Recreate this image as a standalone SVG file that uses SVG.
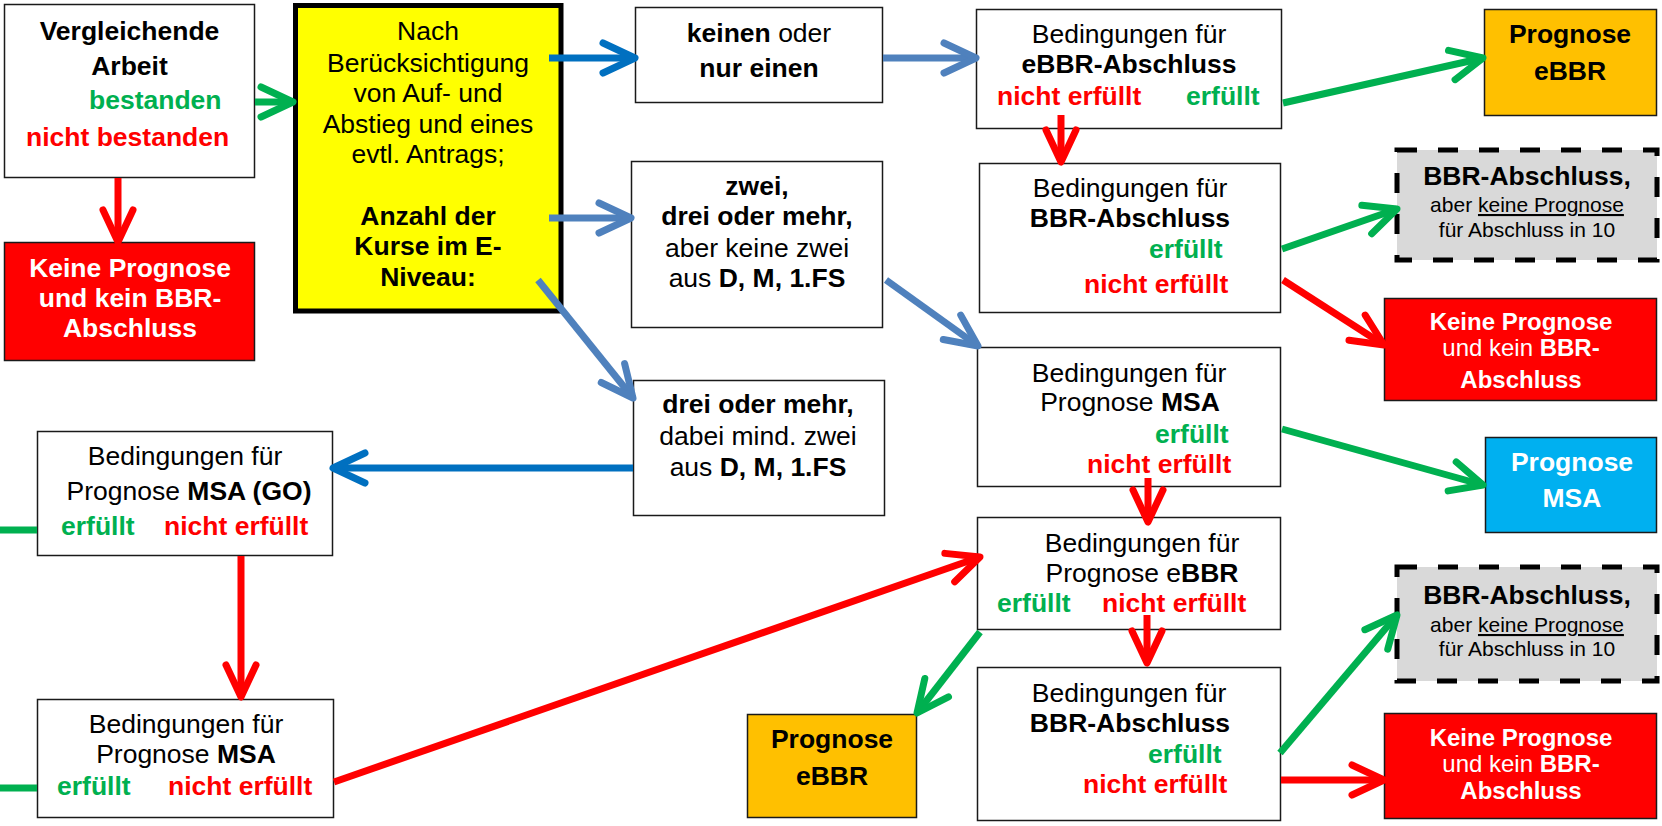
<svg xmlns="http://www.w3.org/2000/svg" width="1662" height="826" viewBox="0 0 1662 826">
<style>
text{font-family:"Liberation Sans",Arial,sans-serif;font-size:26.5px;fill:#000}
.m{text-anchor:middle}
.b{font-weight:bold}
.g{fill:#00B050;font-weight:bold}
.r{fill:#FF0000;font-weight:bold}
.w{fill:#FFFFFF}
.s{font-size:21px}
.k24{font-size:24px}
.box{fill:#FFFFFF;stroke:#1a1a1a;stroke-width:1.5}
.red{fill:#FF0000;stroke:#1a1a1a;stroke-width:1.5}
.org{fill:#FFC000;stroke:#1a1a1a;stroke-width:1.5}
.cyan{fill:#00B0F0;stroke:#1a1a1a;stroke-width:1.5}
.dash{fill:#D9D9D9;stroke:#000;stroke-width:5;stroke-dasharray:20 21}
.c{fill:none;stroke-width:7}
.cg{stroke:#00B050}
.cr{stroke:#FF0000}
.cb1{stroke:#0070C0}
.cb2{stroke:#4F81BD}
</style>
<defs>
<marker id="ag" markerUnits="userSpaceOnUse" orient="auto" markerWidth="60" markerHeight="60" refX="0" refY="0" viewBox="-40 -30 60 60" overflow="visible"><path d="M-32,-15 L0,0 L-32,15" fill="none" stroke="#00B050" stroke-width="7" stroke-linecap="round" stroke-linejoin="round"/></marker>
<marker id="ar" markerUnits="userSpaceOnUse" orient="auto" markerWidth="60" markerHeight="60" refX="0" refY="0" viewBox="-40 -30 60 60" overflow="visible"><path d="M-32,-15 L0,0 L-32,15" fill="none" stroke="#FF0000" stroke-width="7" stroke-linecap="round" stroke-linejoin="round"/></marker>
<marker id="ab1" markerUnits="userSpaceOnUse" orient="auto" markerWidth="60" markerHeight="60" refX="0" refY="0" viewBox="-40 -30 60 60" overflow="visible"><path d="M-32,-15 L0,0 L-32,15" fill="none" stroke="#0070C0" stroke-width="7" stroke-linecap="round" stroke-linejoin="round"/></marker>
<marker id="ab2" markerUnits="userSpaceOnUse" orient="auto" markerWidth="60" markerHeight="60" refX="0" refY="0" viewBox="-40 -30 60 60" overflow="visible"><path d="M-32,-15 L0,0 L-32,15" fill="none" stroke="#4F81BD" stroke-width="7" stroke-linecap="round" stroke-linejoin="round"/></marker>
</defs>
<rect width="1662" height="826" fill="#FFFFFF"/>

<g id="n-vergleich">
<rect class="box" x="4.5" y="4.5" width="250" height="173"/>
<text class="m b" x="129.5" y="40">Vergleichende</text>
<text class="m b" x="129.5" y="75">Arbeit</text>
<text class="g" x="89" y="109">bestanden</text>
<text class="r" x="26" y="146">nicht bestanden</text>
</g>

<g id="n-keine-left">
<rect class="red" x="4.5" y="242.5" width="250" height="118"/>
<text class="m b w" x="130" y="277">Keine Prognose</text>
<text class="m b w" x="130" y="307">und kein BBR-</text>
<text class="m b w" x="130" y="337">Abschluss</text>
</g>

<g id="n-nach">
<rect x="295.5" y="5.5" width="265.5" height="305.5" fill="#FFFF00" stroke="#000" stroke-width="5"/>
<text class="m" x="428" y="40">Nach</text>
<text class="m" x="428" y="72">Berücksichtigung</text>
<text class="m" x="428" y="102">von Auf- und</text>
<text class="m" x="428" y="133">Abstieg und eines</text>
<text class="m" x="428" y="163">evtl. Antrags;</text>
<text class="m b" x="428" y="225">Anzahl der</text>
<text class="m b" x="428" y="255">Kurse im E-</text>
<text class="m b" x="428" y="286">Niveau:</text>
</g>

<g id="n-keinen">
<rect class="box" x="635.5" y="7.5" width="247" height="95"/>
<text class="m" x="759" y="42"><tspan class="b">keinen</tspan> oder</text>
<text class="m b" x="759" y="77">nur einen</text>
</g>

<g id="n-zwei">
<rect class="box" x="631.5" y="161.5" width="251" height="166"/>
<text class="m b" x="757" y="195">zwei,</text>
<text class="m b" x="757" y="225">drei oder mehr,</text>
<text class="m" x="757" y="257">aber keine zwei</text>
<text class="m" x="757" y="287">aus <tspan class="b">D, M, 1.FS</tspan></text>
</g>

<g id="n-drei">
<rect class="box" x="633.5" y="380.5" width="251" height="135"/>
<text class="m b" x="758" y="413">drei oder mehr,</text>
<text class="m" x="758" y="445">dabei mind. zwei</text>
<text class="m" x="758" y="476">aus <tspan class="b">D, M, 1.FS</tspan></text>
</g>

<g id="n-cond-ebbr">
<rect class="box" x="976.5" y="9.5" width="305" height="119"/>
<text class="m" x="1129" y="43">Bedingungen für</text>
<text class="m b" x="1129" y="73">eBBR-Abschluss</text>
<text class="r" x="997" y="105">nicht erfüllt</text>
<text class="g" x="1186" y="105">erfüllt</text>
</g>

<g id="n-cond-bbr1">
<rect class="box" x="979.5" y="163.5" width="301" height="149"/>
<text class="m" x="1130" y="197">Bedingungen für</text>
<text class="m b" x="1130" y="227">BBR-Abschluss</text>
<text class="g" x="1149" y="258">erfüllt</text>
<text class="r" x="1084" y="293">nicht erfüllt</text>
</g>

<g id="n-cond-msa">
<rect class="box" x="977.5" y="347.5" width="303" height="139"/>
<text class="m" x="1129" y="382">Bedingungen für</text>
<text class="m" x="1130" y="411">Prognose <tspan class="b">MSA</tspan></text>
<text class="g" x="1155" y="443">erfüllt</text>
<text class="r" x="1087" y="473">nicht erfüllt</text>
</g>

<g id="n-cond-prog-ebbr">
<rect class="box" x="977.5" y="517.5" width="303" height="112"/>
<text class="m" x="1142" y="552">Bedingungen für</text>
<text class="m" x="1142" y="582">Prognose e<tspan class="b">BBR</tspan></text>
<text class="g" x="997" y="612">erfüllt</text>
<text class="r" x="1102" y="612">nicht erfüllt</text>
</g>

<g id="n-cond-bbr2">
<rect class="box" x="977.5" y="667.5" width="303" height="153"/>
<text class="m" x="1129" y="702">Bedingungen für</text>
<text class="m b" x="1130" y="732">BBR-Abschluss</text>
<text class="g" x="1148" y="763">erfüllt</text>
<text class="r" x="1083" y="793">nicht erfüllt</text>
</g>

<g id="n-prog-ebbr-top">
<rect class="org" x="1484.5" y="9.5" width="172" height="106"/>
<text class="m b" x="1570" y="43">Prognose</text>
<text class="m b" x="1570" y="80">eBBR</text>
</g>

<g id="n-bbr-dash1">
<rect class="dash" x="1397" y="150" width="260" height="110"/>
<text class="m b" x="1527" y="185">BBR-Abschluss,</text>
<text class="m s" x="1527" y="212">aber <tspan text-decoration="underline">keine Prognose</tspan></text>
<text class="m s" x="1527" y="237">für Abschluss in 10</text>
</g>

<g id="n-keine-right1">
<rect class="red" x="1384.5" y="298.5" width="272" height="102"/>
<text class="m b w k24" x="1521" y="330">Keine Prognose</text>
<text class="m w k24" x="1521" y="356">und kein <tspan class="b">BBR-</tspan></text>
<text class="m b w k24" x="1521" y="388">Abschluss</text>
</g>

<g id="n-prog-msa">
<rect class="cyan" x="1485.5" y="437.5" width="171" height="95"/>
<text class="m b w" x="1572" y="471">Prognose</text>
<text class="m b w" x="1572" y="507">MSA</text>
</g>

<g id="n-bbr-dash2">
<rect class="dash" x="1397" y="567" width="260" height="114"/>
<text class="m b" x="1527" y="604">BBR-Abschluss,</text>
<text class="m s" x="1527" y="632">aber <tspan text-decoration="underline">keine Prognose</tspan></text>
<text class="m s" x="1527" y="656">für Abschluss in 10</text>
</g>

<g id="n-keine-right2">
<rect class="red" x="1384.5" y="713.5" width="272" height="105"/>
<text class="m b w k24" x="1521" y="746">Keine Prognose</text>
<text class="m w k24" x="1521" y="772">und kein <tspan class="b">BBR-</tspan></text>
<text class="m b w k24" x="1521" y="799">Abschluss</text>
</g>

<g id="n-cond-msa-go">
<rect class="box" x="37.5" y="431.5" width="295" height="124"/>
<text class="m" x="185" y="465">Bedingungen für</text>
<text class="m" x="189" y="500">Prognose <tspan class="b">MSA (GO)</tspan></text>
<text class="g" x="61" y="535">erfüllt</text>
<text class="r" x="164" y="535">nicht erfüllt</text>
</g>

<g id="n-cond-msa-left">
<rect class="box" x="37.5" y="699.5" width="296" height="118"/>
<text class="m" x="186" y="733">Bedingungen für</text>
<text class="m" x="186" y="763">Prognose <tspan class="b">MSA</tspan></text>
<text class="g" x="57" y="795">erfüllt</text>
<text class="r" x="168" y="795">nicht erfüllt</text>
</g>

<g id="n-prog-ebbr-bottom">
<rect class="org" x="747.5" y="714.5" width="169" height="103"/>
<text class="m b" x="832" y="748">Prognose</text>
<text class="m b" x="832" y="785">eBBR</text>
</g>

<g id="connectors">
<path class="c cg" d="M255,102 L293,102" marker-end="url(#ag)"/>
<path class="c cr" d="M118,178 L118,242" marker-end="url(#ar)"/>
<path class="c cb1" d="M549,58 L635,58" marker-end="url(#ab1)"/>
<path class="c cb2" d="M549,218 L631,218" marker-end="url(#ab2)"/>
<path class="c cb2" d="M538,280 L633,398" marker-end="url(#ab2)"/>
<path class="c cb2" d="M883,58 L976,58" marker-end="url(#ab2)"/>
<path class="c cb2" d="M886,280 L978,346" marker-end="url(#ab2)"/>
<path class="c cb1" d="M633,468 L333,468" marker-end="url(#ab1)"/>
<path class="c cr" d="M1061,115 L1061,162" marker-end="url(#ar)"/>
<path class="c cg" d="M1283,103 L1483,58" marker-end="url(#ag)"/>
<path class="c cg" d="M1282,249 L1397,209" marker-end="url(#ag)"/>
<path class="c cr" d="M1283,280 L1384,345" marker-end="url(#ar)"/>
<path class="c cg" d="M1282,429 L1483,485" marker-end="url(#ag)"/>
<path class="c cr" d="M1148,478 L1148,522" marker-end="url(#ar)"/>
<path class="c cr" d="M1147,615 L1147,663" marker-end="url(#ar)"/>
<path class="c cg" d="M980,632 L917,713" marker-end="url(#ag)"/>
<path class="c cg" d="M1280,753 L1397,615" marker-end="url(#ag)"/>
<path class="c cr" d="M1281,780 L1384,780" marker-end="url(#ar)"/>
<path class="c cr" d="M241,556 L241,697" marker-end="url(#ar)"/>
<path class="c cr" d="M334,782 L980,557" marker-end="url(#ar)"/>
<path class="c cg" d="M0,530 L37,530"/>
<path class="c cg" d="M0,788 L37,788"/>
</g>
</svg>
